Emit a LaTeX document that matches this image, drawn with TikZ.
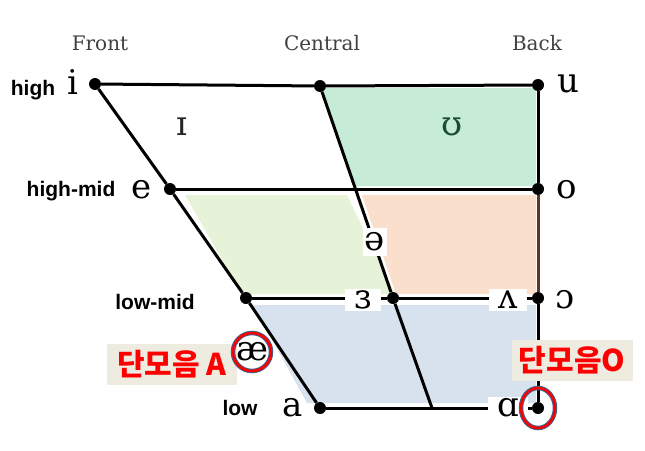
\documentclass[tikz,border=0pt]{standalone}
\usepackage{fontspec}
\newfontfamily\ipafont{DejaVu Serif}
\newfontfamily\heightfont{Liberation Sans}
\newfontfamily\krfont{Noto Sans CJK KR}
\definecolor{mint}{HTML}{C6EBD6}
\definecolor{pale}{HTML}{E7F3D8}
\definecolor{peach}{HTML}{F9DFCC}
\definecolor{haze}{HTML}{D8E2EE}
\definecolor{tagbg}{HTML}{EEEBE1}
\definecolor{ringblue}{HTML}{41618F}
\definecolor{darkbrown}{HTML}{5A3A22}
\definecolor{deepgreen}{HTML}{1D4D31}

\begin{document}
\begin{tikzpicture}
	[x=1pt,y=-1pt,
	dot/.style={circle,fill,inner sep=0pt,minimum size=12pt},
	rule/.style={line width=3pt},
	vowel/.style={inner sep=1pt,font=\ipafont\fontsize{34pt}{34pt}\selectfont},
	gap/.style={vowel,fill=white,inner xsep=9pt,inner ysep=2pt},
	height/.style={font=\heightfont\bfseries\fontsize{21pt}{21pt}\selectfont},
	place/.style={text=black!75,font=\ipafont\fontsize{20pt}{20pt}\selectfont},
	mono/.style={fill=tagbg,text=red,minimum width=130pt,minimum height=41pt,font=\krfont\bfseries\fontsize{30pt}{30pt}\selectfont},
	ringout/.style={draw=ringblue,line width=4.5pt},
	ringin/.style={draw=red,line width=2.5pt}]
	\useasboundingbox (0,0) rectangle (645,450);
	% shaded areas
	\fill[mint] (320,88) -- (536,88) -- (536,186) -- (354,186) -- cycle;
	\fill[pale] (185,195) -- (347,195) -- (395,294) -- (242,294) -- cycle;
	\fill[peach] (362,195) -- (536,195) -- (536,294) -- (396,294) -- cycle;
	\fill[haze] (253,305) -- (536,305) -- (536,403) -- (307,403) -- cycle;

	\foreach \name/\x/\y in {i/95/84,ct/320/86,u/538/85,e/170/189,o/538/189,lf/246/298,lc/393/298,op/538/298,a/320/408,aa/538/408}
		\node[dot] (\name) at (\x,\y) {};
	\coordinate (bc) at (432,408);
	\path
	\foreach \startNode/\endNode in {i/ct,ct/u,i/e,e/lf,lf/a,e/o,lf/lc,lc/op,a/aa,u/o,op/aa,ct/lc,lc/bc}
	{
		(\startNode) edge[rule] (\endNode)
	};
	\draw[rule,darkbrown] (o) -- (op);

	% vowels on the lines
	\node[gap,inner xsep=2pt,inner ysep=5pt] (schwa) at (375,242) {ə};
	\node[gap] (er) at (363,300) {ɜ};
	\node[gap] (wedge) at (508,300) {ʌ};
	\node[gap] (ah) at (508,408) {ɑ};

	\node[vowel] (li) at (73,82) {i};
	\node[vowel] (le) at (142,190) {e};
	\node[vowel] (lu) at (568,84) {u};
	\node[vowel] (lo) at (567,190) {o};
	\node[vowel] (lop) at (565,300) {ɔ};
	\node[vowel] (la) at (293,408) {a};
	\node[vowel,text=black!85] (lax) at (182,127) {ɪ};
	\node[vowel,text=deepgreen] (lup) at (452,127) {ʊ};

	\node[place] (front) at (100,43) {Front};
	\node[place] (central) at (322,43) {Central};
	\node[place] (back) at (537,43) {Back};

	\node[height] (high) at (33,90) {high};
	\node[height] (highmid) at (71,191) {high-mid};
	\node[height] (lowmid) at (155,302) {low-mid};
	\node[height] (low) at (240,408) {low};

	\node[mono] (tagA) at (172,364) {단모음 A};
	\node[mono,minimum width=121pt] (tagO) at (572,360) {단모음O};

	\node[vowel] (ae) at (252,352) {æ};
	\draw[ringout] (ae.center) circle[radius=19];
	\draw[ringin] (ae.center) circle[radius=19];
	\draw[ringout] (aa.center) ellipse[x radius=17,y radius=20];
	\draw[ringin] (aa.center) ellipse[x radius=17,y radius=20];
\end{tikzpicture}
\end{document}
